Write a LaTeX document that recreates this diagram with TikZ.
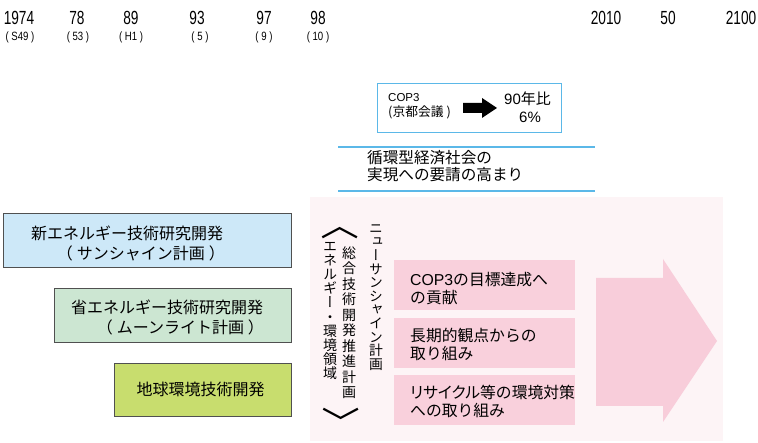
\documentclass[tikz,border=0pt]{standalone}
\usepackage{fontspec}
\usepackage{graphicx}
\setmainfont{Noto Sans CJK JP}
\newfontfamily\lat{Liberation Sans}
\newfontfamily\jpv[RawFeature=+vert]{Noto Sans CJK JP}
\newfontfamily\jpp[RawFeature=+palt]{Noto Sans CJK JP}
\definecolor{bgpink}{RGB}{253,244,246}
\definecolor{pinkbox}{RGB}{249,208,220}
\definecolor{arrowpink}{RGB}{248,205,218}
\definecolor{skyline}{RGB}{91,184,232}
\definecolor{bluefill}{RGB}{205,232,248}
\definecolor{greenfill}{RGB}{204,230,210}
\definecolor{ygfill}{RGB}{200,221,110}
\definecolor{boxborder}{RGB}{80,80,80}
\tikzset{
  year/.style={font=\lat\fontsize{19}{19}\selectfont, inner sep=0pt},
  era/.style={font=\lat\fontsize{12}{12}\selectfont, inner sep=0pt},
  leftbox/.style={draw=boxborder, line width=0.9pt, anchor=north west, inner sep=0pt},
  pbox/.style={fill=pinkbox, anchor=north west, inner sep=0pt, minimum width=181pt, minimum height=50pt},
  jtext/.style={font=\fontsize{15.8}{18}\selectfont, inner sep=0pt, anchor=west, align=left},
  ltext/.style={font=\fontsize{16}{20}\selectfont, inner sep=0pt, anchor=west, align=left},
  vcol/.style={inner sep=0pt, align=center},
  brk/.style={inner sep=0pt, rotate=-90, font=\fontsize{32}{32}\selectfont},
}
\newcommand{\yr}[1]{\scalebox{0.72}[1]{#1}}
\newcommand{\er}[1]{\scalebox{0.8}[1]{#1}}
\begin{document}
\begin{tikzpicture}[x=1pt,y=-1pt]
\useasboundingbox (0,0) rectangle (758,443);
% background
\fill[bgpink] (310,197) rectangle (723,441);
% years
\node[year] (y1974) at (19,18) {\yr{1974}};
\node[year] (y78) at (77,18) {\yr{78}};
\node[year] (y89) at (131,18) {\yr{89}};
\node[year] (y93) at (197,18) {\yr{93}};
\node[year] (y97) at (264,18) {\yr{97}};
\node[year] (y98) at (318,18) {\yr{98}};
\node[year] (y2010) at (606,18) {\yr{2010}};
\node[year] (y50) at (668,18) {\yr{50}};
\node[year] (y2100) at (741,18) {\yr{2100}};
\node[era] (e49) at (20,37) {\er{( S49 )}};
\node[era] (e53) at (78,37) {\er{( 53 )}};
\node[era] (eh1) at (131,37) {\er{( H1 )}};
\node[era] (e5) at (200,37) {\er{( 5 )}};
\node[era] (e9) at (264,37) {\er{( 9 )}};
\node[era] (e10) at (318,37) {\er{( 10 )}};
% COP3 box
\node[draw=skyline, line width=1.1pt, anchor=north west, minimum width=184pt, minimum height=49pt, inner sep=0pt] (cop) at (377,83) {};
\node[inner sep=0pt, anchor=west, align=left, font=\fontsize{12.8}{15.5}\selectfont] (coptxt) at (388,106) {{\lat\fontsize{11.5}{15}\selectfont COP3}\\({京都会議} )};
\fill (463,103) -- (482,103) -- (482,98) -- (497,108) -- (482,118) -- (482,113) -- (463,113) -- cycle;
\node[inner sep=0pt, font=\fontsize{15}{15}\selectfont] (ninety) at (527.5,98.5) {{\lat 90}年比};
\node[inner sep=0pt, font=\lat\fontsize{15}{15}\selectfont] (six) at (530,117.5) {6\%};
% lines and text
\draw[skyline, line width=1.3pt] (338,147) coordinate (l1a) -- (595,147) coordinate (l1b);
\draw[skyline, line width=1.3pt] (338,191) coordinate (l2a) -- (595,191) coordinate (l2b);
\node[jtext, font=\fontsize{15.6}{17}\selectfont] (junkan) at (367,166) {循環型経済社会の\\実現への要請の高まり};
% left boxes
\node[leftbox, fill=bluefill, minimum width=288pt, minimum height=54pt] (sun) at (3,213) {};
\node[ltext] (suntxt) at (31,243) {新エネルギー技術研究開発\\\hspace{1.6em}（\hspace{4pt}サンシャイン計画\hspace{4pt}）};
\node[leftbox, fill=greenfill, minimum width=237pt, minimum height=54pt] (moon) at (54,288) {};
\node[ltext] (moontxt) at (71,317) {省エネルギー技術研究開発\\\hspace{1.6em}（\hspace{4pt}ムーンライト計画\hspace{4pt}）};
\node[leftbox, fill=ygfill, minimum width=177pt, minimum height=53pt] (chikyu) at (114,363) {};
\node[inner sep=0pt, font=\fontsize{16}{20}\selectfont] (chikyutxt) at (200.5,389.5) {地球環境技術開発};
% vertical text
\node[vcol, font=\jpv\fontsize{13.8}{13.6}\selectfont] (nsc) at (376,297.5) {ニ\\ュ\\ー\\サ\\ン\\シ\\ャ\\イ\\ン\\計\\画};
\node[vcol, font=\jpv\fontsize{14}{15.5}\selectfont] (sogo) at (349,322.5) {総\\合\\技\\術\\開\\発\\推\\進\\計\\画};
\node[vcol, font=\jpv\fontsize{14}{14.2}\selectfont] (ene) at (330,311) {エ\\ネ\\ル\\ギ\\ー\\・\\環\\境\\領\\域};
\node[brk] (lbr) at (340.5,225) {\scalebox{1}[1.2]{〈}};
\node[brk] (rbr) at (341.5,423) {\scalebox{1}[1.2]{〉}};
% pink boxes
\node[pbox] (p1) at (394,260) {};
\node[jtext] (p1t) at (410,288.5) {{\lat COP3}の目標達成へ\\の貢献};
\node[pbox] (p2) at (394,318) {};
\node[jtext] (p2t) at (410,344.5) {長期的観点からの\\取り組み};
\node[pbox] (p3) at (394,375) {};
\node[jtext] (p3t) at (410,401) {{\jpp リサイクル}等の環境対策\\への取り組み};
% big arrow
\fill[arrowpink] (596,278) -- (663,278) -- (663,259) -- (717,341) -- (663,422) -- (663,406) -- (596,406) -- cycle;
\end{tikzpicture}
\end{document}
